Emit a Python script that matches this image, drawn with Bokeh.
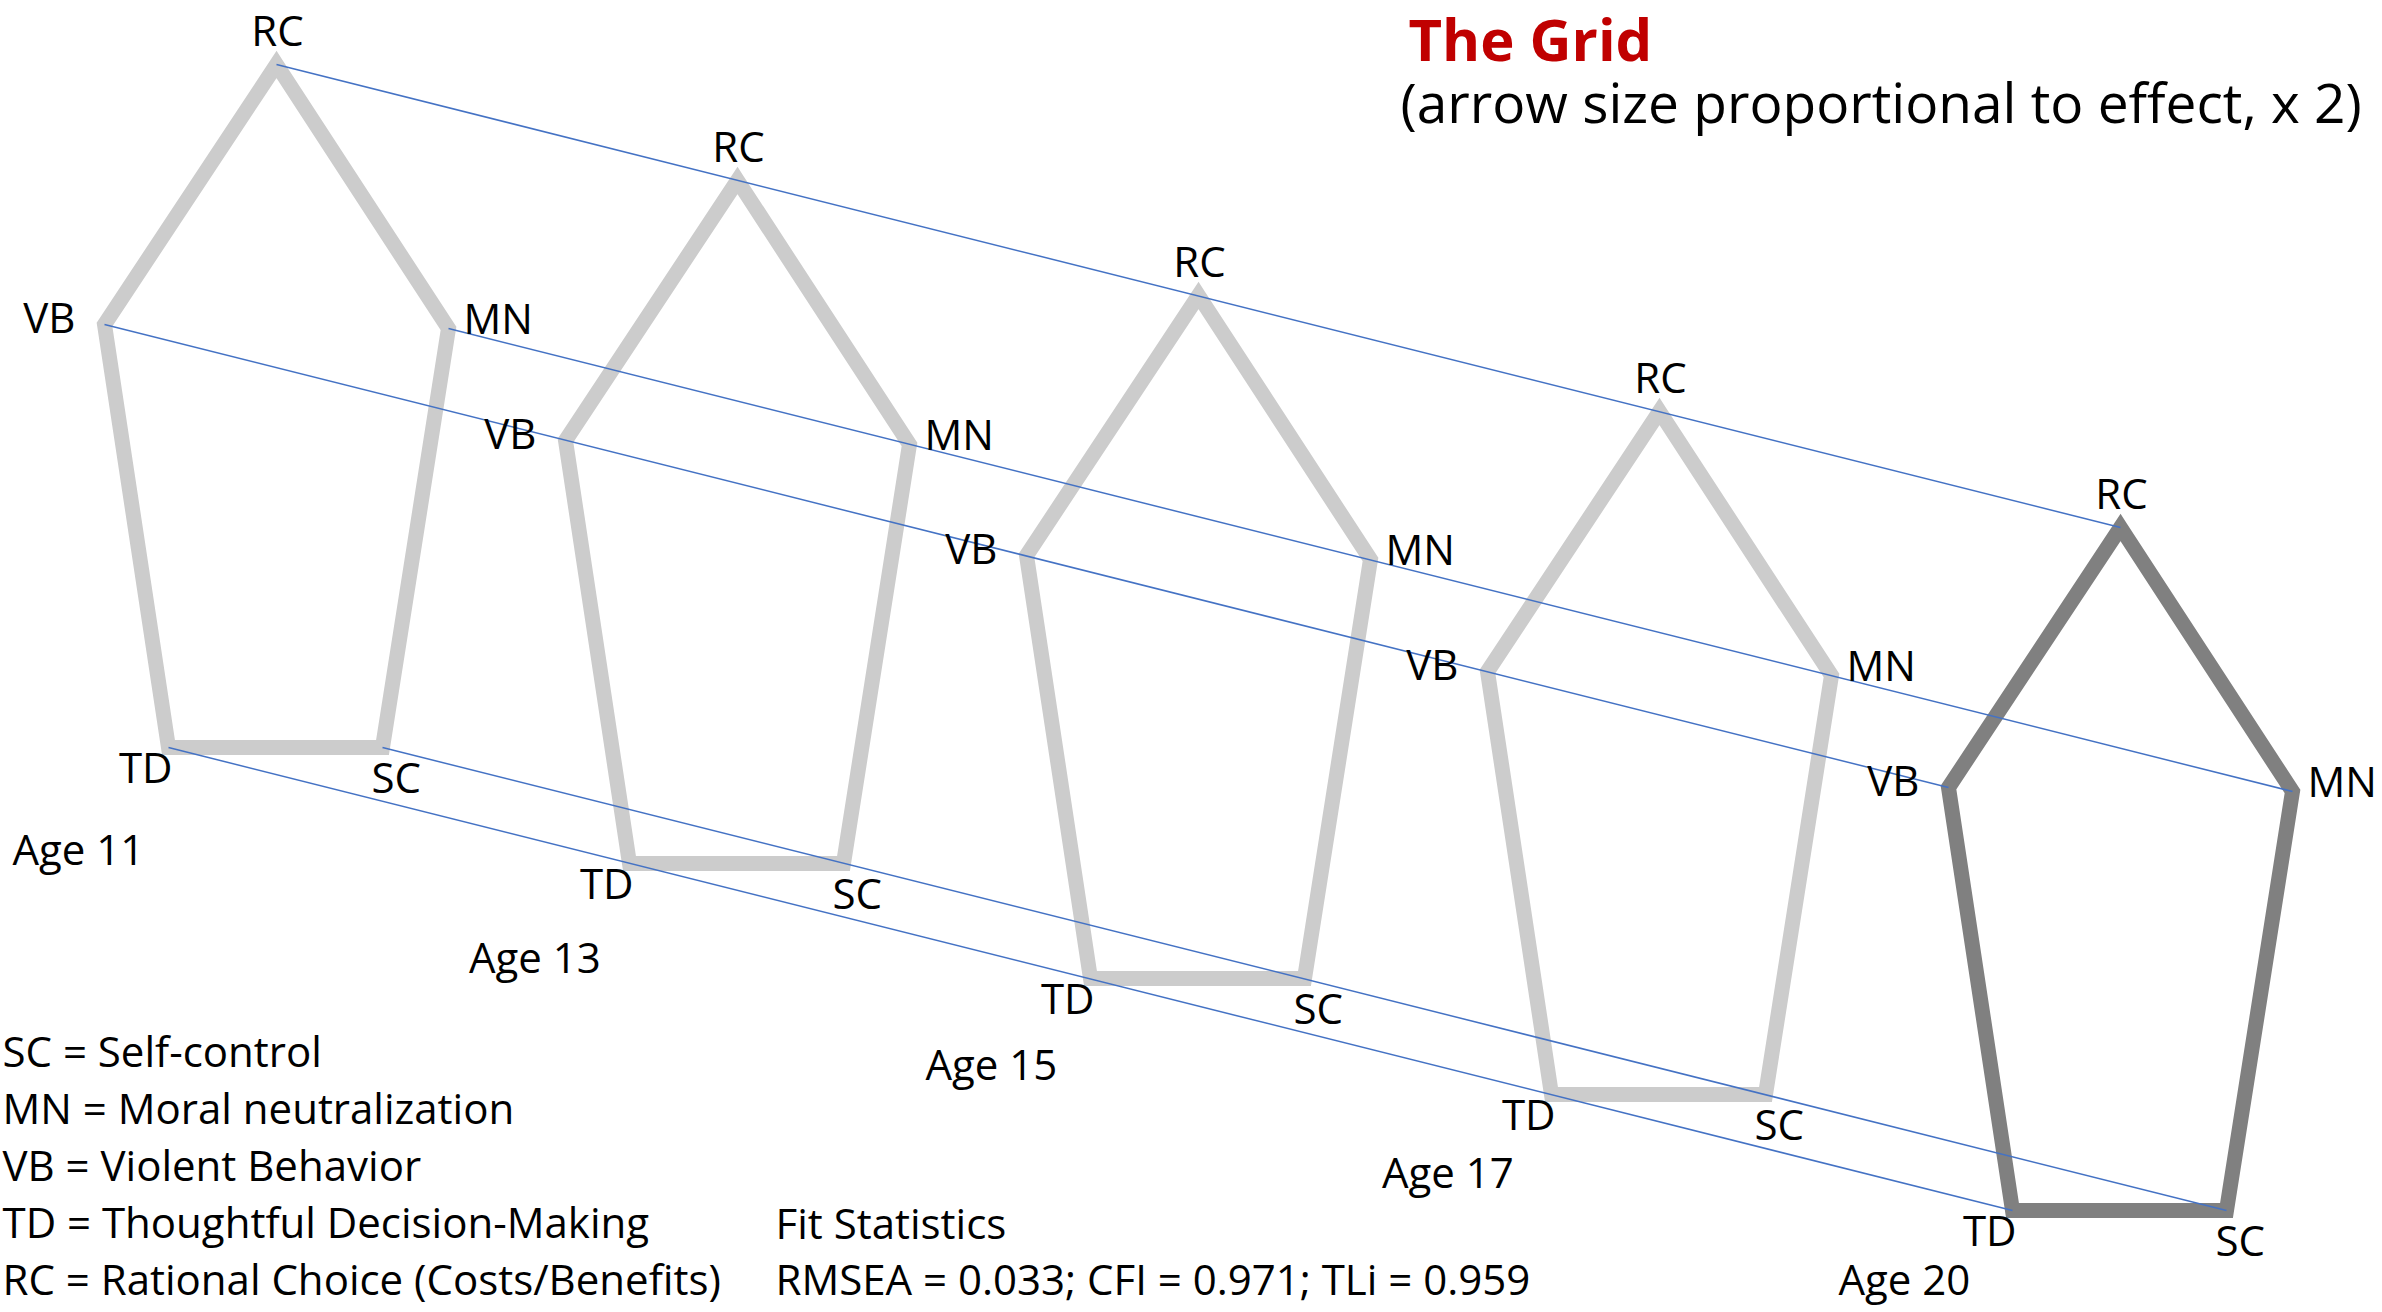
from bokeh.plotting import figure
from bokeh.models import ColumnDataSource, Range1d
from bokeh.core.properties import value
from bokeh.embed import file_html
from bokeh.resources import INLINE

# ---------------- data ----------------
ages = ["Age 11", "Age 13", "Age 15", "Age 17", "Age 20"]
nodes = ["RC", "MN", "SC", "TD", "VB"]
# Age-11 pentagon node positions (diagram units, y grows downward)
node_x = [276, 448, 382, 168, 104]
node_y = [64, 328, 747, 747, 324]
# shift of each wave's pentagon relative to Age 11
wave_dx = [0, 461, 922, 1383, 1844]
wave_dy = [0, 116, 231, 347, 463]
highlight = [False, False, False, False, True]

legend_lines = [
    "SC = Self-control",
    "MN = Moral neutralization",
    "VB = Violent Behavior",
    "TD = Thoughtful Decision-Making",
    "RC = Rational Choice (Costs/Benefits)",
]
fit_lines = ["Fit Statistics", "RMSEA = 0.033; CFI = 0.971; TLi = 0.959"]
title_text = "The Grid"
subtitle_text = "(arrow size proportional to effect, x 2)"

# ---------------- style / layout ----------------
W, H = 2378, 1308
FONT = value("Open Sans")
LIGHT, DARK, BLUE = "#CCCCCC", "#808080", "#4472C4"


def bl(y, fs):
    """compensate the renderer's baseline shift so that y is the visual baseline"""
    if isinstance(y, list):
        return [v - 0.38 * fs for v in y]
    return y - 0.38 * fs


p = figure(width=W, height=H, x_range=Range1d(0, W), y_range=Range1d(H, 0),
           output_backend="svg", toolbar_location=None, min_border=0,
           x_axis_location=None, y_axis_location=None,
           background_fill_color="white", border_fill_color="white",
           outline_line_color=None)
p.xgrid.visible = False
p.ygrid.visible = False

# pentagons
xs = [[x + dx for x in node_x] for dx in wave_dx]
ys = [[y + dy for y in node_y] for dy in wave_dy]
cols = [DARK if h else LIGHT for h in highlight]
src = ColumnDataSource(dict(xs=xs, ys=ys, color=cols))
p.patches("xs", "ys", source=src, fill_alpha=0, line_color="color",
          line_width=15, line_join="miter")

# connecting lines from first to last wave
p.segment(x0=[x + wave_dx[0] for x in node_x], y0=[y + wave_dy[0] for y in node_y],
          x1=[x + wave_dx[-1] for x in node_x], y1=[y + wave_dy[-1] for y in node_y],
          line_color=BLUE, line_width=1.5)

FS = 42
# node labels
label_style = {"RC": ("center", 1, -19), "MN": ("left", 15, 5), "SC": ("left", -11, 45),
               "TD": ("right", 4, 35), "VB": ("right", -29, 8)}
for k, name in enumerate(nodes):
    align, ox, oy = label_style[name]
    p.text(x=[node_x[k] + dx + ox for dx in wave_dx],
           y=bl([node_y[k] + dy + oy for dy in wave_dy], FS),
           text=[name] * len(wave_dx), text_align=align, text_baseline="alphabetic",
           text_font=FONT, text_font_size=value(f"{FS}px"), text_color="black")

# age labels
p.text(x=[12 + i * 456.5 for i in range(len(ages))],
       y=bl([864 + i * 107.5 for i in range(len(ages))], FS),
       text=ages, text_align="left", text_baseline="alphabetic",
       text_font=FONT, text_font_size=value(f"{FS}px"), text_color="black")

# legend of abbreviations
p.text(x=[2] * len(legend_lines), y=bl([1066 + i * 57 for i in range(len(legend_lines))], FS),
       text=legend_lines, text_align="left", text_baseline="alphabetic",
       text_font=FONT, text_font_size=value(f"{FS}px"), text_color="black")

# fit statistics
p.text(x=[775] * len(fit_lines), y=bl([1238 + i * 56 for i in range(len(fit_lines))], FS),
       text=fit_lines, text_align="left", text_baseline="alphabetic",
       text_font=FONT, text_font_size=value(f"{FS}px"), text_color="black")

# title and subtitle
p.text(x=[1408], y=[bl(60, 58)], text=[title_text], text_align="left",
       text_baseline="alphabetic", text_font=FONT, text_font_size=value("58px"),
       text_font_style="bold", text_color="#C00000")
p.text(x=[1400], y=[bl(122, 55)], text=[subtitle_text], text_align="left",
       text_baseline="alphabetic", text_font=FONT, text_font_size=value("55px"),
       text_color="black")

open("out.html", "w").write(file_html(p, INLINE))
